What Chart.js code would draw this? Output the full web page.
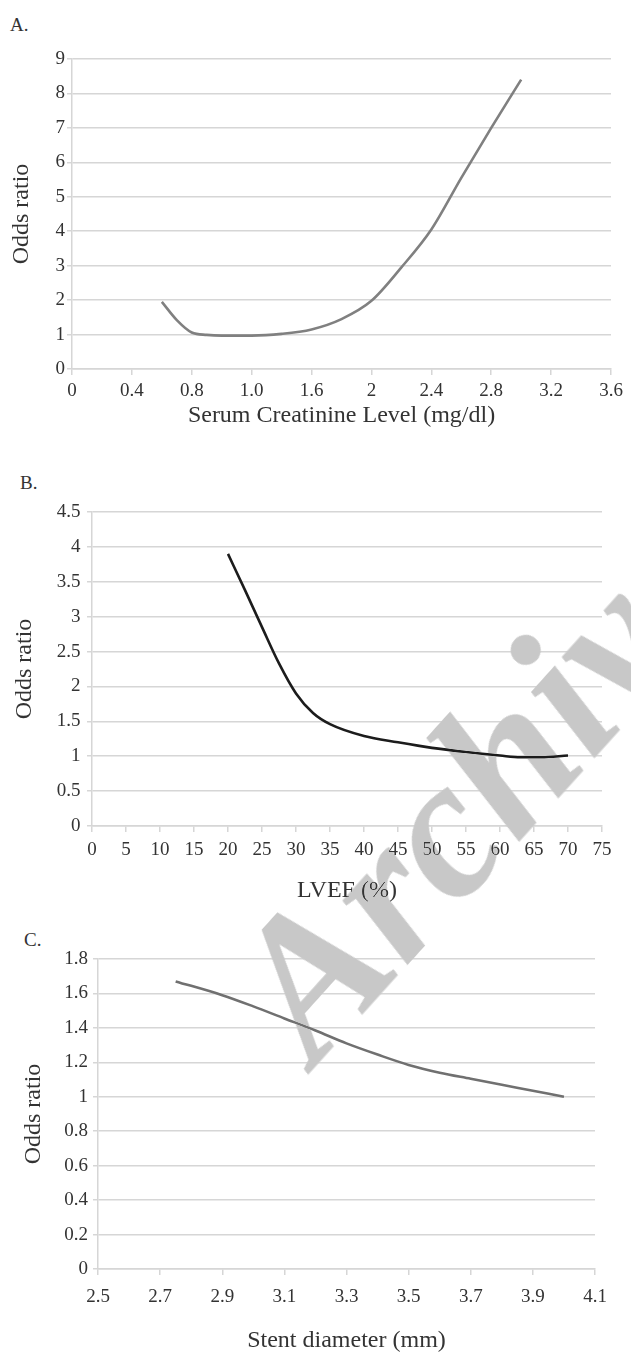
<!DOCTYPE html>
<html>
<head>
<meta charset="utf-8">
<script src="https://cdn.jsdelivr.net/npm/chart.js@4.4.1/dist/chart.umd.min.js"></script>
<style>
  html, body { margin: 0; padding: 0; background: #fff; }
  body { width: 631px; height: 1353px; position: relative; overflow: hidden;
         font-family: "Liberation Serif", "Times New Roman", serif; color: #333; }
  canvas { position: absolute; left: 0; }
  .panel { position: absolute; font-size: 19px; line-height: 1; }
  .mark { position: absolute; left: 305px; top: 1058px; width: 0; height: 0;
          transform: rotate(-48deg); transform-origin: 0 0; mix-blend-mode: darken; }
  .mark div { position: absolute; left: 0; top: -168px; line-height: 1; white-space: nowrap;
              font: italic bold 200px "Liberation Serif", serif; color: #c8c8c8; }
</style>
</head>
<body>
<div class="panel" style="left:10px;top:15px">A.</div>
<div class="panel" style="left:20px;top:473px">B.</div>
<div class="panel" style="left:24px;top:930px">C.</div>
<canvas id="chartA" width="631" height="400" style="top:40px"></canvas>
<canvas id="chartB" width="631" height="430" style="top:490px"></canvas>
<canvas id="chartC" width="631" height="418" style="top:935px"></canvas>
<div class="mark"><div>Archive</div></div>

<script>
// A. serum creatinine
var creatinineX = [0.6, 0.7, 0.8, 0.9, 1.0, 1.2, 1.4, 1.6, 1.8, 2.0, 2.2, 2.4, 2.6, 2.8, 3.0];
var creatinineOR = [1.95, 1.42, 1.06, 0.99, 0.97, 0.97, 1.02, 1.15, 1.45, 1.98, 2.95, 4.05, 5.55, 7.0, 8.4];
var creatinineTicks = [0, 0.4, 0.8, 1.2, 1.6, 2.0, 2.4, 2.8, 3.2, 3.6];
var creatinineTickLabels = ['0', '0.4', '0.8', '1.0', '1.6', '2', '2.4', '2.8', '3.2', '3.6'];
var creatinineYTicks = [0, 1, 2, 3, 4, 5, 6, 7, 8, 9];
var creatinineYLabels = ['0', '1', '2', '3', '4', '5', '6', '7', '8', '9'];

// B. LVEF
var lvefX = [20, 22.5, 25, 27.5, 30, 32.5, 35, 40, 45, 50, 55, 60, 63, 66, 70];
var lvefOR = [3.9, 3.38, 2.85, 2.33, 1.9, 1.62, 1.46, 1.29, 1.2, 1.12, 1.06, 1.01, 0.985, 0.985, 1.01];
var lvefTicks = [0, 5, 10, 15, 20, 25, 30, 35, 40, 45, 50, 55, 60, 65, 70, 75];
var lvefTickLabels = ['0', '5', '10', '15', '20', '25', '30', '35', '40', '45', '50', '55', '60', '65', '70', '75'];
var lvefYTicks = [0, 0.5, 1, 1.5, 2, 2.5, 3, 3.5, 4, 4.5];
var lvefYLabels = ['0', '0.5', '1', '1.5', '2', '2.5', '3', '3.5', '4', '4.5'];

// C. stent diameter
var stentX = [2.75, 2.9, 3.0, 3.1, 3.2, 3.3, 3.4, 3.5, 3.6, 3.7, 3.8, 3.9, 4.0];
var stentOR = [1.67, 1.59, 1.525, 1.455, 1.385, 1.31, 1.245, 1.185, 1.14, 1.105, 1.07, 1.035, 1.0];
var stentTicks = [2.5, 2.7, 2.9, 3.1, 3.3, 3.5, 3.7, 3.9, 4.1];
var stentTickLabels = ['2.5', '2.7', '2.9', '3.1', '3.3', '3.5', '3.7', '3.9', '4.1'];
var stentYTicks = [0, 0.2, 0.4, 0.6, 0.8, 1, 1.2, 1.4, 1.6, 1.8];
var stentYLabels = ['0', '0.2', '0.4', '0.6', '0.8', '1', '1.2', '1.4', '1.6', '1.8'];

var textColor = '#333333';
var gridColor = '#d6d6d6';
var tickFont = { family: '"Liberation Serif", "Times New Roman", serif', size: 19 };
var titleFont = { family: '"Liberation Serif", "Times New Roman", serif', size: 24, lineHeight: 1 };

function toPoints(xs, ys) {
  return xs.map(function (x, i) { return { x: x, y: ys[i] }; });
}

function fixedTicks(values) {
  return function (scale) {
    scale.ticks = values.map(function (v) { return { value: v }; });
  };
}

function drawPanel(canvasId, xs, ys, xTicks, xLabels, yTicks, yLabels, xTitle, lineColor, box) {
  return new Chart(document.getElementById(canvasId), {
    type: 'line',
    data: {
      datasets: [{
        data: toPoints(xs, ys),
        borderColor: lineColor,
        borderWidth: 2.6,
        pointRadius: 0,
        fill: false,
        cubicInterpolationMode: 'monotone'
      }]
    },
    options: {
      responsive: false,
      animation: false,
      layout: { padding: { top: box.top, right: box.right, left: 0, bottom: 0 } },
      plugins: { legend: { display: false }, tooltip: { enabled: false } },
      scales: {
        x: {
          type: 'linear',
          min: xTicks[0],
          max: xTicks[xTicks.length - 1],
          afterBuildTicks: fixedTicks(xTicks),
          afterFit: function (scale) { scale.height = box.xHeight; },
          ticks: {
            autoSkip: false, maxRotation: 0, padding: box.xTickPad,
            color: textColor, font: tickFont,
            callback: function (value, index) { return xLabels[index]; }
          },
          grid: { drawOnChartArea: false, drawTicks: true, tickLength: 6, color: gridColor, lineWidth: 1.5 },
          border: { display: true, color: gridColor, width: 1.5 },
          title: {
            display: true, text: xTitle, color: textColor, font: titleFont,
            padding: { top: 0, bottom: box.xTitlePad }
          }
        },
        y: {
          type: 'linear',
          min: yTicks[0],
          max: yTicks[yTicks.length - 1],
          afterBuildTicks: fixedTicks(yTicks),
          afterFit: function (scale) { scale.width = box.yWidth; },
          ticks: {
            padding: box.yTickPad, color: textColor, font: tickFont,
            callback: function (value, index) { return yLabels[index]; }
          },
          grid: { color: gridColor, lineWidth: 1.5, tickLength: 5 },
          border: { display: true, color: gridColor, width: 1.5 },
          title: {
            display: true, text: 'Odds ratio', color: textColor, font: titleFont,
            padding: { top: box.yTitlePad, bottom: 0 }
          }
        }
      }
    }
  });
}

drawPanel('chartA', creatinineX, creatinineOR, creatinineTicks, creatinineTickLabels,
  creatinineYTicks, creatinineYLabels, 'Serum Creatinine Level (mg/dl)', '#808080',
  { top: 19, right: 20, yWidth: 72, xHeight: 71, xTickPad: 4.6, xTitlePad: 12, yTitlePad: 10, yTickPad: 2 });

drawPanel('chartB', lvefX, lvefOR, lvefTicks, lvefTickLabels,
  lvefYTicks, lvefYLabels, 'LVEF (%)', '#1c1c1c',
  { top: 22, right: 29, yWidth: 92, xHeight: 94, xTickPad: 6.6, xTitlePad: 17, yTitlePad: 13, yTickPad: 6.5 });

drawPanel('chartC', stentX, stentOR, stentTicks, stentTickLabels,
  stentYTicks, stentYLabels, 'Stent diameter (mm)', '#707070',
  { top: 24, right: 36, yWidth: 98, xHeight: 84, xTickPad: 10.6, xTitlePad: 0, yTitlePad: 22, yTickPad: 5 });
</script>
</body>
</html>
